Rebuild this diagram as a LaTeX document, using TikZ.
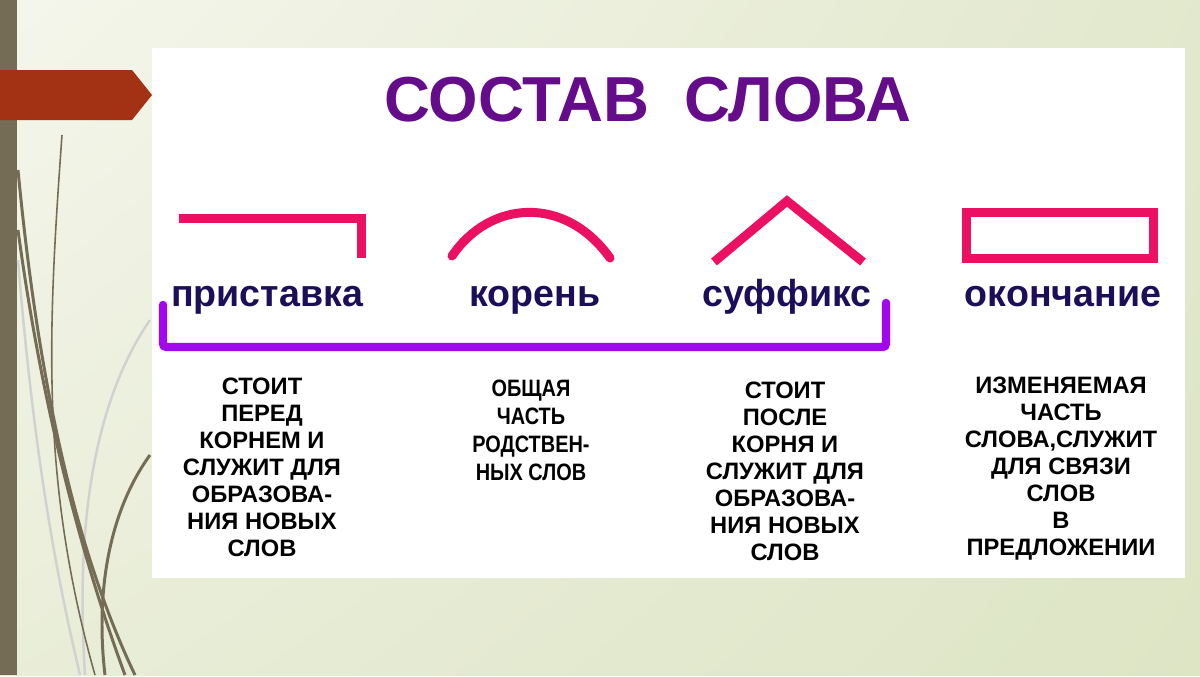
\documentclass[tikz,border=0pt]{standalone}
\usepackage{fontspec}
\setmainfont{Liberation Sans}
\newfontfamily\uzkij[FakeStretch=0.84]{Liberation Sans}
\usetikzlibrary{shadings}
\definecolor{fonsvet}{RGB}{245,246,236}
\definecolor{fontemn}{RGB}{221,229,197}
\definecolor{olivka}{RGB}{117,108,85}
\definecolor{kirpich}{RGB}{163,49,20}
\definecolor{malina}{RGB}{236,16,98}
\definecolor{fiolet}{RGB}{162,8,240}
\definecolor{temnosin}{RGB}{28,14,88}
\definecolor{zagolovok}{RGB}{100,12,138}
\tikzset{
  znak/.style={draw=malina, line width=5.1pt},
  chast/.style={font=\fontsize{21.4}{24}\selectfont\bfseries, text=temnosin, anchor=base, inner sep=0pt},
  opisanie/.style={font=\fontsize{13.5}{15.3}\selectfont\bfseries, align=center, anchor=north, inner sep=0pt},
  skobka/.style={draw=fiolet, line width=4.8pt, line cap=round, rounded corners=2pt},
  zagl/.style={font=\fontsize{36.2}{40}\selectfont\bfseries, text=zagolovok, inner sep=0pt},
  travinka/.style={draw=olivka, line width=1.7pt},
  travinkasv/.style={draw=black!18, line width=1.4pt}
}
\begin{document}
\begin{tikzpicture}[x=0.02cm, y=-0.02cm]
  \shade[upper left=fonsvet, upper right=fontemn!80!fonsvet, lower left=fontemn!50!fonsvet, lower right=fontemn] (0,0) rectangle (1200,675);
  \fill[olivka] (0,0) rectangle (17,675);
  \draw[travinkasv] (150,320) .. controls (95,400) and (75,520) .. (85,675);
  \draw[travinkasv] (18,260) .. controls (35,470) and (60,590) .. (80,675);
  \draw[travinka, line width=0.9pt] (62,135) .. controls (48,330) and (40,480) .. (95,675);
  \draw[travinka] (18,170) .. controls (40,400) and (80,560) .. (135,675);
  \draw[travinka] (18,230) .. controls (45,430) and (90,580) .. (125,675);
  \draw[travinka] (150,455) .. controls (110,510) and (95,590) .. (105,675);
  \fill[kirpich] (0,70) -- (132,70) -- (152,95) -- (132,120) -- (0,120) -- cycle;
  \fill[white] (152,48) rectangle (1185,578);

  \node (zagolovok) [zagl] at (648,100) {СОСТАВ\ \ СЛОВА};

  \draw[znak] (179,218.5) -- (361.5,218.5) -- (361.5,258);
  \draw[znak, line cap=round] (452,256) .. controls (490,200) and (565,195) .. (610,258);
  \draw[znak] (714,262) -- (787,201) -- (863,262);
  \draw[znak] (966.5,212.5) rectangle (1153.5,258.5);

  \node (pristavka) [chast] at (267,306) {приставка};
  \node (koren) [chast] at (535,306) {корень};
  \node (suffiks) [chast] at (787,306) {суффикс};
  \node (okonchanie) [chast] at (1063,306) {окончание};

  \draw[skobka] (163,305) -- (163,347) -- (886,347) -- (886,303);

  \node (opis1) [opisanie] at (262,378) {СТОИТ\\ПЕРЕД\\КОРНЕМ И\\СЛУЖИТ ДЛЯ\\ОБРАЗОВА-\\НИЯ НОВЫХ\\СЛОВ};
  \node (opis2) [opisanie, font=\uzkij\fontsize{13.5}{15.9}\selectfont\bfseries] at (531,380) {ОБЩАЯ\\ЧАСТЬ\\РОДСТВЕН-\\НЫХ СЛОВ};
  \node (opis3) [opisanie] at (785,382) {СТОИТ\\ПОСЛЕ\\КОРНЯ И\\СЛУЖИТ ДЛЯ\\ОБРАЗОВА-\\НИЯ НОВЫХ\\СЛОВ};
  \node (opis4) [opisanie] at (1061,377) {ИЗМЕНЯЕМАЯ\\ЧАСТЬ\\СЛОВА,СЛУЖИТ\\ДЛЯ СВЯЗИ\\СЛОВ\\В\\ПРЕДЛОЖЕНИИ};
\end{tikzpicture}
\end{document}
